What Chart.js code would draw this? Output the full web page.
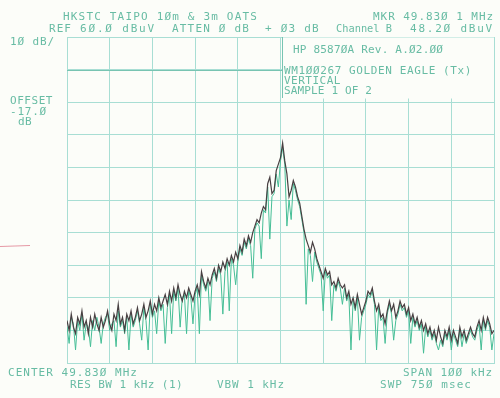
<!DOCTYPE html>
<html>
<head>
<meta charset="utf-8">
<script src="https://cdn.jsdelivr.net/npm/chart.js@4/dist/chart.umd.min.js"></script>
<style>
  html, body { margin: 0; padding: 0; background: #fcfdf9; }
  #wrap { width: 500px; height: 398px; position: relative; }
</style>
</head>
<body>
<div id="wrap"><canvas id="sa"></canvas></div>
<script>
/* spectrum analyser plot: 49.830 MHz centre, 100 kHz span, ref 60 dBuV, 10 dB/div */

const spanKHz = [-50, 50];
const levelDb = [-40, 60];

// dark (black) trace, one value every 0.5 kHz across the span
const darkTrace = [
  -27, -30, -25, -29, -31, -26, -28, -24, -29, -27,
  -31, -26, -29, -25, -28, -30, -26, -29, -27, -24,
  -28, -30, -25, -27, -22, -28, -26, -30, -25, -27,
  -24, -28, -26, -23, -27, -25, -22, -26, -24, -21,
  -25, -22, -24, -20, -23, -21, -19, -22, -18, -21,
  -17, -20, -16, -19, -21, -18, -20, -17, -19, -21,
  -18, -16, -19, -12, -15, -17, -14, -16, -13, -11,
  -14, -10, -12, -9, -11, -8, -10, -7, -9, -6,
  -8, -4, -6, -2, -4, -1, -3, 0, 2, 4,
  3, 6, 8, 7, 15, 17, 12, 13, 19, 21,
  23, 27.5, 22, 18, 11, 13, 16, 14, 11, 9,
  5, 1, -2, -4, -6, -3, -5, -8, -10, -12,
  -14, -11, -13, -12, -16, -15, -17, -14, -16, -17,
  -16, -20, -18, -22, -20, -23, -19, -22, -25, -23,
  -21, -18, -19, -17, -21, -24, -22, -26, -25, -28,
  -24, -21, -24, -22, -26, -24, -21, -23, -22, -25,
  -23, -27, -25, -28, -26, -29, -27, -30, -28, -31,
  -29, -32, -30, -33, -29, -32, -34, -30, -32, -29,
  -33, -30, -32, -34, -29, -32, -30, -33, -31, -29,
  -31, -32, -29, -27, -30, -26, -29, -26, -28, -31,
  -30
];

// green trace (second sweep), with the deep single-point drop-outs
const greenTrace = [
  -29, -34, -26, -28, -36, -27, -30, -25, -33, -28,
  -29, -35, -27, -30, -26, -29, -34, -28, -26, -25,
  -30, -28, -27, -35, -24, -29, -27, -31, -26, -36,
  -25, -29, -27, -24, -28, -33, -23, -27, -36, -22,
  -26, -24, -31, -21, -24, -22, -34, -23, -19, -31,
  -18, -21, -17, -29, -20, -19, -31, -18, -20, -28,
  -19, -17, -31, -13, -16, -18, -15, -27, -14, -12,
  -15, -11, -13, -25, -12, -9, -24, -8, -10, -16,
  -9, -5, -7, -3, -5, -2, -4, -14, 1, 3,
  2, -8, 7, 6, 14, -2, 11, 12, 18, 14,
  22, 26, 21, 2, 10, 4, 15, 13, 10, 8,
  4, 0, -22, -5, -7, -15, -6, -9, -11, -13,
  -24, -12, -14, -13, -27, -16, -18, -15, -17, -22,
  -17, -21, -19, -36, -21, -24, -20, -33, -26, -24,
  -22, -19, -20, -18, -22, -36, -23, -27, -26, -34,
  -25, -22, -25, -33, -27, -25, -22, -24, -23, -26,
  -24, -34, -26, -29, -27, -30, -28, -37, -29, -32,
  -30, -33, -31, -34, -36, -33, -35, -31, -33, -30,
  -36, -31, -33, -35, -30, -35, -31, -34, -32, -30,
  -32, -33, -30, -28, -36, -27, -30, -27, -29, -36,
  -31
];

const freqKHz = darkTrace.map((_, i) => spanKHz[0] + i * 0.5);

const INK = 'rgb(104,188,164)';
const GRID = 'rgb(168,222,212)';

const toPts = (arr) => arr.map((v, i) => ({ x: freqKHz[i], y: v }));

// screen annotations: [text, left x, centre y, width the plotter gave it]
const labels = [
  ['HKSTC TAIPO 1Øm & 3m OATS', 63, 17, 195],
  ['MKR 49.83Ø 1 MHz', 373, 17, 121],
  ['REF', 49, 29, 23],
  ['6Ø.Ø dBuV', 80, 29, 76],
  ['ATTEN Ø dB', 172, 29, 78],
  ['+ Ø3 dB', 265, 29, 55],
  ['Channel B', 336, 29, 56],
  ['48.2Ø dBuV', 410, 29, 84],
  ['1Ø dB/', 10, 42, 45],
  ['HP 8587ØA Rev. A.Ø2.ØØ', 293, 50, 150],
  ['WM1ØØ267 GOLDEN EAGLE (Tx)', 284, 71, 188],
  ['VERTICAL', 284, 81, 57],
  ['SAMPLE 1 OF 2', 284, 91, 88],
  ['OFFSET', 10, 101, 43],
  ['-17.Ø', 10, 112, 37],
  ['dB', 18, 122, 14],
  ['CENTER 49.83Ø MHz', 8, 373, 130],
  ['SPAN 1ØØ kHz', 403, 373, 90],
  ['RES BW 1 kHz (1)', 70, 385, 113],
  ['VBW 1 kHz', 217, 385, 68],
  ['SWP 75Ø msec', 380, 385, 92],
];

/* ---- annotations, box and header text drawn straight on the canvas ---- */
const hpText = {
  id: 'hpText',
  beforeDatasetsDraw(chart) {
    const { ctx } = chart;
    // blank label box over the top right of the graticule
    ctx.save();
    ctx.fillStyle = '#fcfdf9';
    ctx.fillRect(283, 37.5, 211, 61);
    ctx.strokeStyle = 'rgb(120,196,178)';
    ctx.lineWidth = 1;
    ctx.beginPath();
    ctx.moveTo(282.5, 37); ctx.lineTo(282.5, 98);
    ctx.moveTo(67, 70.5); ctx.lineTo(282.5, 70.5);
    ctx.stroke();
    ctx.restore();
  },
  afterDraw(chart) {
    const { ctx } = chart;
    ctx.save();
    ctx.fillStyle = INK;
    ctx.font = '11px "DejaVu Sans Mono"';
    ctx.textBaseline = 'middle';
    labels.forEach(([s, x, y, w]) => {
      ctx.letterSpacing = '0px';
      const m = ctx.measureText(s).width;
      const ls = (w - m) / s.length;
      if (ls >= 0) {
        ctx.letterSpacing = ls.toFixed(2) + 'px';
        ctx.fillText(s, x, y);
      } else {
        ctx.fillText(s, x, y, w);
      }
    });
    // stray pen mark in the left margin
    ctx.letterSpacing = '0px';
    ctx.strokeStyle = 'rgba(220,110,130,0.7)';
    ctx.lineWidth = 1;
    ctx.beginPath();
    ctx.moveTo(0, 246.5); ctx.lineTo(30, 245.5);
    ctx.stroke();
    ctx.restore();
  }
};

new Chart(document.getElementById('sa'), {
  type: 'line',
  data: {
    datasets: [
      {
        label: 'sweep A',
        data: toPts(darkTrace),
        borderColor: 'rgb(72,64,66)',
        borderWidth: 1.2,
        pointRadius: 0,
        tension: 0,
        order: 1,
      },
      {
        label: 'sweep B',
        data: toPts(greenTrace),
        borderColor: 'rgb(70,190,150)',
        borderWidth: 1,
        pointRadius: 0,
        tension: 0,
        order: 2,
      },
    ],
  },
  options: {
    responsive: true, maintainAspectRatio: false,
    animation: false,
    layout: { padding: { left: 67, right: 6, top: 37, bottom: 35 } },
    plugins: { legend: { display: false }, tooltip: { enabled: false } },
    scales: {
      x: {
        type: 'linear', min: spanKHz[0], max: spanKHz[1],
        ticks: { display: false, stepSize: 10 },
        grid: { color: GRID, lineWidth: 1, drawTicks: false },
        border: { color: GRID },
      },
      y: {
        min: levelDb[0], max: levelDb[1],
        ticks: { display: false, stepSize: 10 },
        grid: { color: GRID, lineWidth: 1, drawTicks: false },
        border: { color: GRID },
      },
    },
  },
  plugins: [hpText],
});
</script>
</body>
</html>
